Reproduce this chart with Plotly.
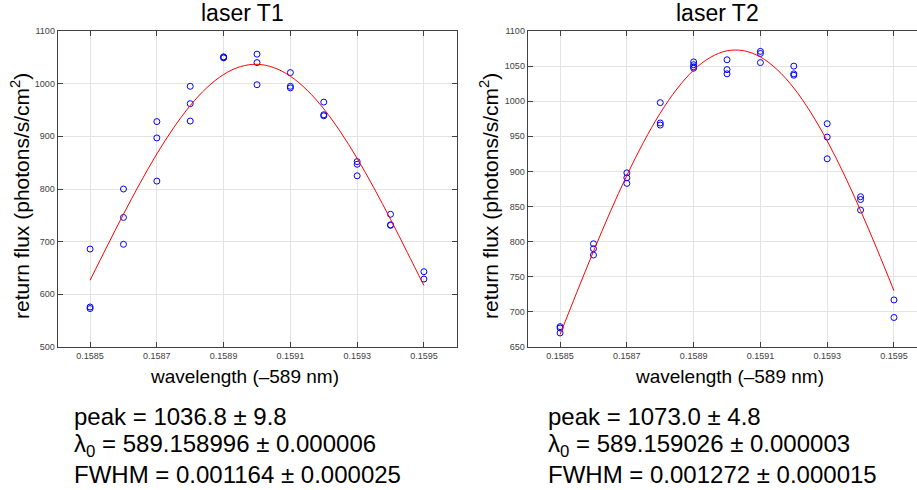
import plotly.graph_objects as go

W, H = 917, 490

# ---------------- data ----------------
# laser T1 measurements (wavelength offset from 589 nm, return flux)
t1_wl = [0.1585, 0.1585, 0.1585,
         0.1586, 0.1586, 0.1586,
         0.1587, 0.1587, 0.1587,
         0.1588, 0.1588, 0.1588,
         0.1589, 0.1589, 0.1589,
         0.1590, 0.1590, 0.1590,
         0.1591, 0.1591, 0.1591,
         0.1592, 0.1592, 0.1592,
         0.1593, 0.1593, 0.1593,
         0.1594, 0.1594, 0.1594,
         0.1595, 0.1595]
t1_flux = [686, 576, 573,
           800, 746, 695,
           928, 897, 815,
           995, 962, 929,
           1051, 1050, 1049,
           1056, 1040, 998,
           1021, 995, 992,
           965, 941, 939,
           852, 847, 825,
           752, 732, 731,
           643, 629]

# laser T2 measurements
t2_wl = [0.1585, 0.1585, 0.1585,
         0.1586, 0.1586, 0.1586,
         0.1587, 0.1587, 0.1587,
         0.1588, 0.1588, 0.1588,
         0.1589, 0.1589, 0.1589, 0.1589,
         0.1590, 0.1590, 0.1590,
         0.1591, 0.1591, 0.1591,
         0.1592, 0.1592, 0.1592,
         0.1593, 0.1593, 0.1593,
         0.1594, 0.1594, 0.1594,
         0.1595, 0.1595]
t2_flux = [679, 677, 670,
           797, 790, 781,
           898, 891, 883,
           998, 969, 966,
           1056, 1052, 1049, 1047,
           1059, 1045, 1039,
           1071, 1068, 1055,
           1050, 1039, 1037,
           968, 949, 918,
           864, 860, 845,
           717, 692]

# fitted curves
fit_wl = [0.15850, 0.15855, 0.15860, 0.15865, 0.15870, 0.15875, 0.15880,
          0.15885, 0.15890, 0.15895, 0.15900, 0.15905, 0.15910, 0.15915,
          0.15920, 0.15925, 0.15930, 0.15935, 0.15940, 0.15945, 0.15950]
t1_fit = [626.7, 690.1, 752.2, 811.5, 866.7, 916.0, 958.4,
          992.5, 1017.4, 1032.3, 1036.8, 1030.6, 1014.1, 987.7,
          952.2, 908.5, 858.2, 802.3, 742.5, 679.9, 616.6]
t2_fit = [667.9, 727.7, 786.2, 842.2, 894.4, 941.7, 983.1,
          1017.5, 1044.3, 1062.4, 1071.8, 1071.9, 1063.0, 1045.1,
          1018.8, 984.6, 943.5, 896.4, 844.3, 788.5, 730.1]

x_tickvals = [0.1585, 0.1587, 0.1589, 0.1591, 0.1593, 0.1595]
x_ticktext = ["0.1585", "0.1587", "0.1589", "0.1591", "0.1593", "0.1595"]
t1_yticks = [500, 600, 700, 800, 900, 1000, 1100]
t2_yticks = [650, 700, 750, 800, 850, 900, 950, 1000, 1050, 1100]

titles = ["laser T1", "laser T2"]
x_title = "wavelength (–589 nm)"
y_title = "return flux (photons/s/cm<sup>2</sup>)"
t1_text = ["peak = 1036.8 ± 9.8",
           "λ<sub>0</sub> = 589.158996 ± 0.000006",
           "FWHM = 0.001164 ± 0.000025"]
t2_text = ["peak = 1073.0 ± 4.8",
           "λ<sub>0</sub> = 589.159026 ± 0.000003",
           "FWHM = 0.001272 ± 0.000015"]

# ---------------- figure ----------------
FONT = "Liberation Sans, Arial, sans-serif"
AX = "#404040"
GRID = "#e3e3e3"


def px(x):
    return x / W


def py(y):
    return (H - y) / H


marker = dict(symbol="circle-open", size=6, color="#0000ff", line=dict(width=1, color="#0000ff"))
fig = go.Figure()
fig.add_trace(go.Scatter(x=t1_wl, y=t1_flux, mode="markers", marker=marker, xaxis="x", yaxis="y"))
fig.add_trace(go.Scatter(x=fit_wl, y=t1_fit, mode="lines",
                         line=dict(color="#ff0000", width=1, shape="spline"), xaxis="x", yaxis="y"))
fig.add_trace(go.Scatter(x=t2_wl, y=t2_flux, mode="markers", marker=marker, xaxis="x2", yaxis="y2"))
fig.add_trace(go.Scatter(x=fit_wl, y=t2_fit, mode="lines",
                         line=dict(color="#ff0000", width=1, shape="spline"), xaxis="x2", yaxis="y2"))

common = dict(showline=True, linecolor=AX, linewidth=1, ticks="inside", ticklen=5,
              tickcolor=AX, showgrid=True, gridcolor=GRID, gridwidth=1, zeroline=False,
              automargin=False,
              tickfont=dict(size=9, color=AX, family=FONT))

ydom = [py(347), py(31)]
fig.update_layout(
    width=W, height=H,
    autosize=False,
    margin=dict(l=0, r=0, t=0, b=0, pad=0),
    paper_bgcolor="white", plot_bgcolor="white",
    showlegend=False,
    hovermode=False,
    font=dict(family=FONT, color="#000000"),
    xaxis=dict(domain=[px(57.7), px(457.3)], range=[0.158403, 0.1596], anchor="y",
               tickvals=x_tickvals, ticktext=x_ticktext, mirror="ticks", **common),
    yaxis=dict(domain=ydom, range=[500, 1100], anchor="x", tickvals=t1_yticks,
               mirror="ticks", **common),
    xaxis2=dict(domain=[px(527.7), 1.0], range=[0.158403, 0.159569], anchor="y2",
                tickvals=x_tickvals, ticktext=x_ticktext, mirror="ticks", **common),
    yaxis2=dict(domain=ydom, range=[650, 1100], anchor="x2", tickvals=t2_yticks,
                mirror=False, **common),
)

ann = []
# titles
for txt, cx in zip(titles, [242, 717.5]):
    ann.append(dict(text=txt, x=px(cx), y=py(13), xref="paper", yref="paper",
                    xanchor="center", yanchor="middle", showarrow=False,
                    font=dict(size=23, color="#000000", family=FONT)))
# x titles
for cx in [244, 729]:
    ann.append(dict(text=x_title, x=px(cx), y=py(376), xref="paper", yref="paper",
                    xanchor="center", yanchor="middle", showarrow=False,
                    font=dict(size=19, color="#000000", family=FONT)))
# y titles
for cx in [20, 489]:
    ann.append(dict(text=y_title, x=px(cx), y=py(196), xref="paper", yref="paper",
                    xanchor="center", yanchor="middle", showarrow=False, textangle=-90,
                    font=dict(size=21, color="#000000", family=FONT)))
# fit results
for lines, lx in [(t1_text, 72), (t2_text, 546)]:
    for i, line in enumerate(lines):
        ann.append(dict(text=line, x=px(lx), y=py(416 + 29 * i), xref="paper", yref="paper",
                        xanchor="left", yanchor="middle", align="left", showarrow=False,
                        font=dict(size=24, color="#000000", family=FONT)))
fig.update_layout(annotations=ann)

fig.write_html(
    "out.html",
    config={"responsive": False, "displayModeBar": False},
    post_script="document.body.style.margin='0px';document.body.style.overflow='hidden';",
)
